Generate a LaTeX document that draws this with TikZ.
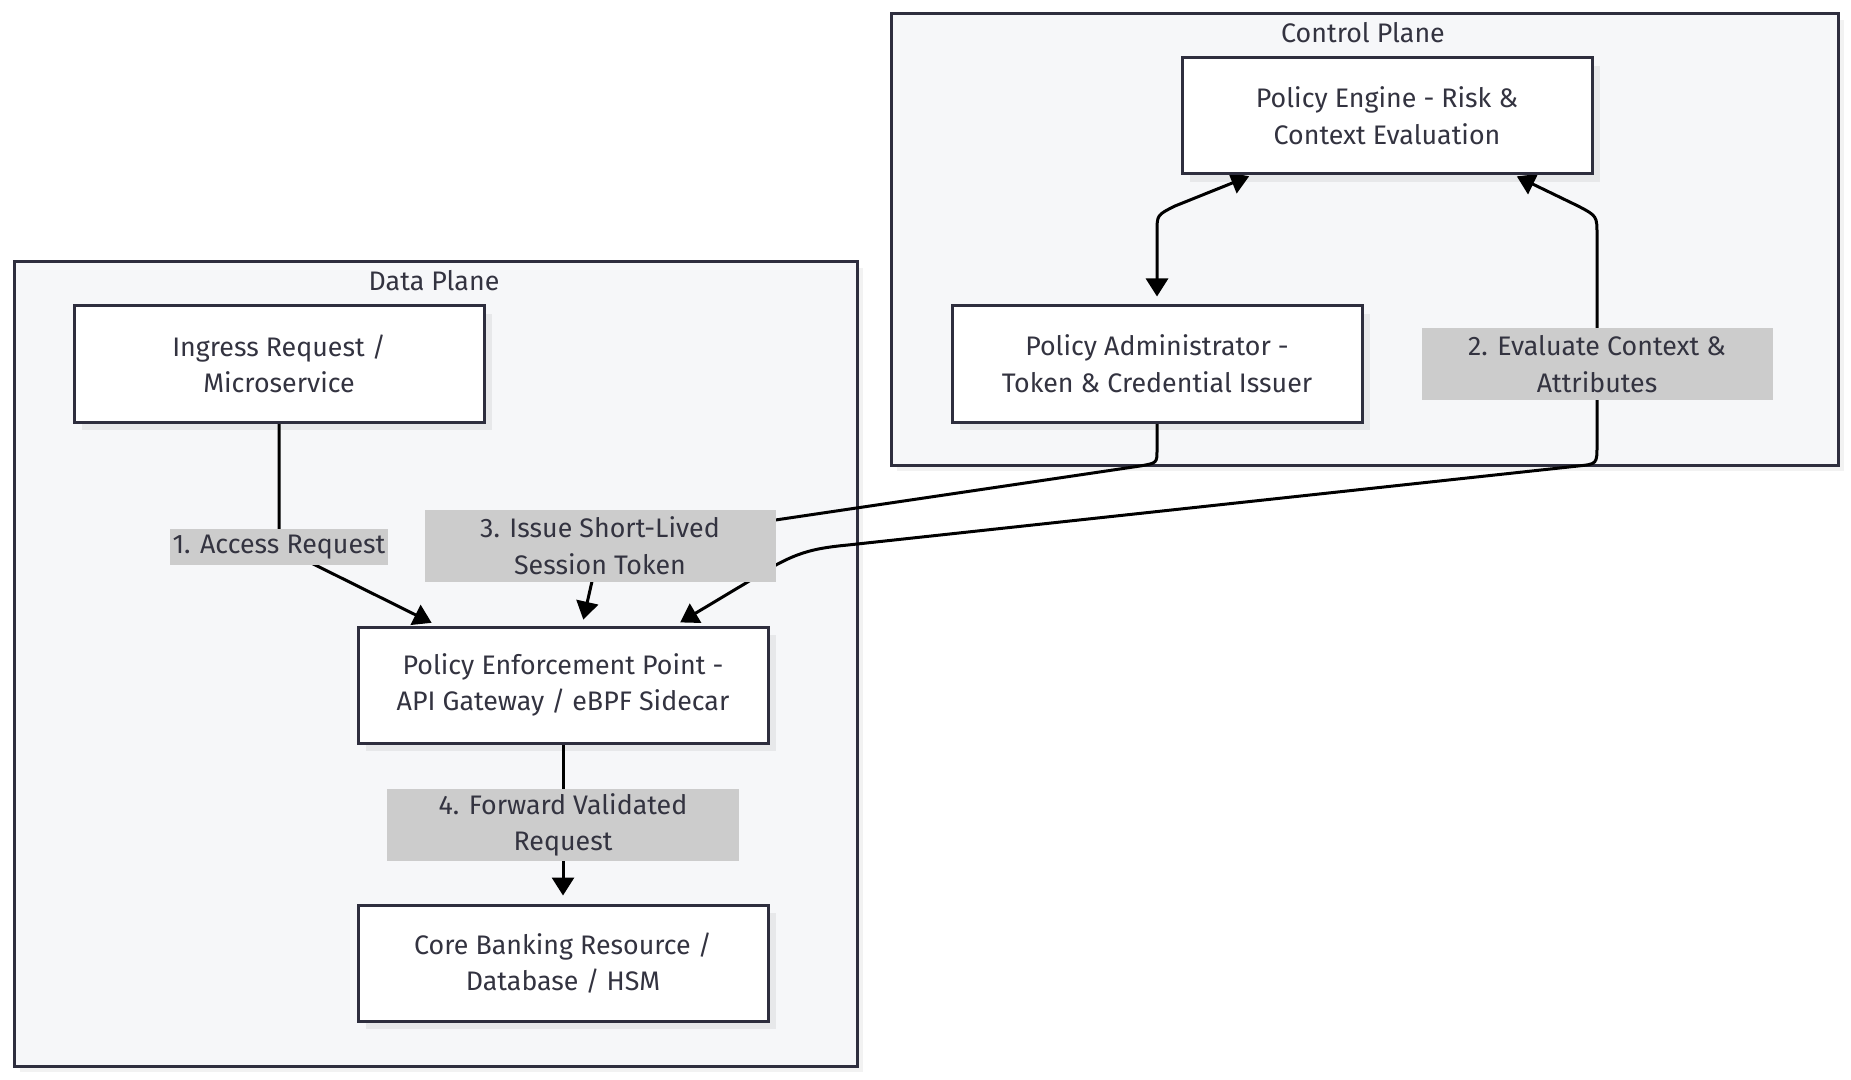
\documentclass[tikz,border=0pt]{standalone}
\usepackage{fontspec}
\setmainfont{Fira Sans}
\usetikzlibrary{arrows.meta,calc,shadows}
\definecolor{ink}{HTML}{2E2E3E}
\definecolor{clfill}{HTML}{F6F7F9}
\definecolor{lbfill}{HTML}{CCCCCC}
\definecolor{txt}{HTML}{333340}
\pgfdeclarelayer{bg}
\pgfdeclarelayer{edges}
\pgfsetlayers{bg,edges,main}
\begin{document}
\begin{tikzpicture}[x=0.5pt,y=-0.5pt,
  every node/.style={font=\fontsize{13.4}{18.3}\selectfont, text=txt},
  box/.style={draw=ink, line width=1.5pt, fill=white, minimum width=205pt, minimum height=58pt, align=center, inner sep=0pt,
    drop shadow={shadow xshift=4pt, shadow yshift=-4pt, fill=black, opacity=0.06}},
  lab/.style={fill=lbfill, inner sep=0pt, align=center},
  cluster/.style={draw=ink, line width=1.5pt, fill=clfill,
    drop shadow={shadow xshift=3pt, shadow yshift=-3pt, fill=black, opacity=0.05}},
  conn/.style={draw=black, line width=1.5pt},
  tipend/.style={-{Triangle[length=9pt,width=11pt]}},
  tipboth/.style={{Triangle[length=9pt,width=11pt]}-{Triangle[length=9pt,width=11pt]}}
]
\useasboundingbox (0,0) rectangle (1851,1080);

% clusters
\begin{pgfonlayer}{bg}
  \fill[white] (0,0) rectangle (1851,1080);
  \path[cluster] (14,262) rectangle (857,1066);
  \path[cluster] (891,14) rectangle (1838,465);
\end{pgfonlayer}
\node (dptitle) at (434,281) {Data Plane};
\node (cptitle) at (1363,33) {Control Plane};

% nodes
\node[box] (ing) at (279,364) {Ingress Request /\\Microservice};
\node[box] (pep) at (563,685) {Policy Enforcement Point -\\API Gateway / eBPF Sidecar};
\node[box] (core) at (563,963) {Core Banking Resource /\\Database / HSM};
\node[box] (pe) at (1387,116) {Policy Engine - Risk \&\\Context Evaluation};
\node[box] (pa) at (1157,364) {Policy Administrator -\\Token \& Credential Issuer};

% edge labels
\node[lab, minimum width=109pt, minimum height=18pt] (l1) at (279,547) {1. Access Request};
\node[lab, minimum width=175.5pt, minimum height=36pt] (l3) at (600,546) {3. Issue Short-Lived\\Session Token};
\node[lab, minimum width=175.5pt, minimum height=36pt] (l2) at (1597,364) {2. Evaluate Context \&\\Attributes};
\node[lab, minimum width=176pt, minimum height=36pt] (l4) at (563,825) {4. Forward Validated\\Request};

% connectors
\begin{pgfonlayer}{edges}
  \draw[conn, tipend, shorten >=3pt] (ing.south) -- (l1.center) -- ($(pep.north)+(-126,0)$);
  \draw[conn, tipboth, shorten <=3pt, shorten >=1pt] ($(pep.north)+(112,0)$) -- (746,583)
      .. controls (790,555) and (805,549) .. (848,545) -- (1578,466)
      .. controls (1597,464) .. (1597,445) -- (l2.center) -- (1597,235)
      .. controls (1597,216) .. (1578,206) -- ($(pe.south)+(128,0)$);
  \draw[conn, tipboth, shorten <=1pt, shorten >=4pt] ($(pe.south)+(-136,0)$) -- (1175,206)
      .. controls (1157,215) .. (1157,232) -- (pa.north);
  \draw[conn, tipend, shorten >=3pt] (pa.south) -- (1157,450)
      .. controls (1157,463) .. (1140,466) -- (l3.center) -- ($(pep.north)+(19,0)$);
  \draw[conn, tipend, shorten >=4pt] (pep.south) -- (l4.center) -- (core.north);
\end{pgfonlayer}
\end{tikzpicture}
\end{document}
